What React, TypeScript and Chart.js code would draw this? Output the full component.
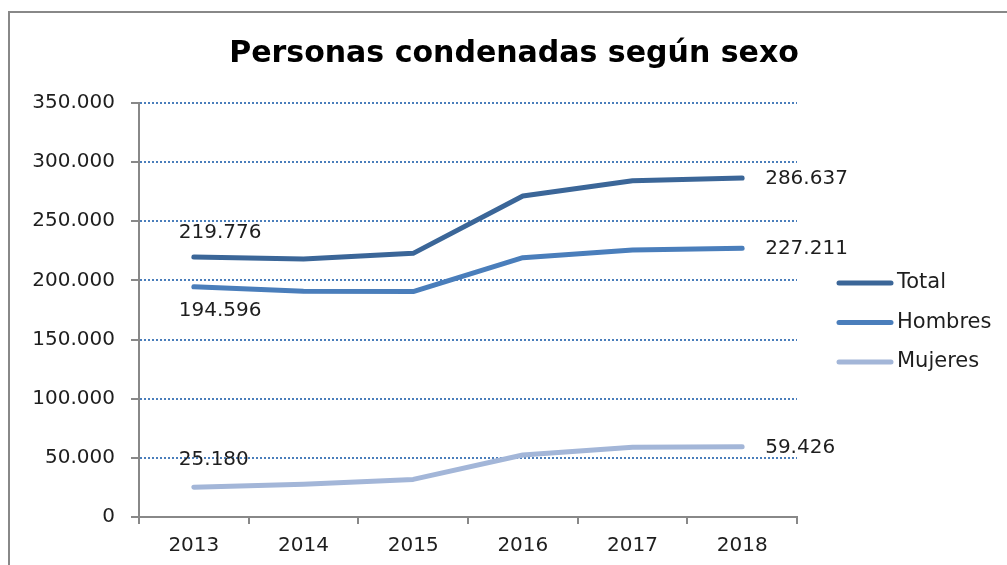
import React, { useEffect, useRef } from 'react';
import { Chart, registerables } from 'chart.js';

Chart.register(...registerables);

const chartTitle = 'Personas condenadas según sexo';
const years = ['2013', '2014', '2015', '2016', '2017', '2018'];
const seriesNames = ['Total', 'Hombres', 'Mujeres'];
const total = [219776, 218200, 222900, 271400, 284300, 286637];
const hombres = [194596, 190900, 190600, 219200, 225700, 227211];
const mujeres = [25180, 27600, 31800, 52400, 58900, 59426];
const yMin = 0;
const yMax = 350000;
const yStep = 50000;

const seriesColors = ['#3B6698', '#4A7EBB', '#A3B6D8'];
const TEXT = '#1e1e1e';
const AXIS = '#888888';
const GRID = '#4A7EBB';
const FONT = '"DejaVu Sans", Verdana, sans-serif';

const fmt = (v: number) => String(Math.round(v)).replace(/\B(?=(\d{3})+(?!\d))/g, '.');

const decorPlugin = {
  id: 'decor',
  afterDatasetsDraw(chart: any) {
    const ctx = chart.ctx as CanvasRenderingContext2D;
    ctx.save();
    // data labels at first and last points
    ctx.font = `20px ${FONT}`;
    ctx.fillStyle = TEXT;
    ctx.textBaseline = 'middle';
    ctx.textAlign = 'left';
    const firstOffsets = [-24, 24, -27];
    chart.data.datasets.forEach((ds: any, i: number) => {
      const pts = chart.getDatasetMeta(i).data;
      const first = pts[0];
      const last = pts[pts.length - 1];
      ctx.fillText(fmt(ds.data[0]), first.x - 15, first.y + firstOffsets[i]);
      ctx.fillText(fmt(ds.data[ds.data.length - 1]), last.x + 23, last.y + 1);
    });
    // legend
    const lx1 = 839;
    const lx2 = 891;
    const ly0 = 283;
    const lstep = 39.5;
    chart.data.datasets.forEach((ds: any, i: number) => {
      const y = ly0 + i * lstep;
      ctx.beginPath();
      ctx.strokeStyle = ds.borderColor;
      ctx.lineWidth = 5;
      ctx.lineCap = 'round';
      ctx.moveTo(lx1, y);
      ctx.lineTo(lx2, y);
      ctx.stroke();
      ctx.fillStyle = TEXT;
      ctx.font = `21px ${FONT}`;
      ctx.textAlign = 'left';
      ctx.textBaseline = 'middle';
      ctx.fillText(ds.label, 897, y);
    });
    // title
    ctx.font = `bold 30px ${FONT}`;
    ctx.fillStyle = '#000000';
    ctx.textAlign = 'center';
    ctx.textBaseline = 'alphabetic';
    ctx.fillText(chartTitle, 514, 62);
    ctx.restore();
  },
};

export default function App() {
  const ref = useRef<HTMLCanvasElement | null>(null);

  useEffect(() => {
    if (!ref.current) return;
    const seriesData = [total, hombres, mujeres];
    const chart = new Chart(ref.current, {
      type: 'line',
      data: {
        labels: years,
        datasets: seriesNames.map((name, i) => ({
          label: name,
          data: seriesData[i],
          borderColor: seriesColors[i],
          backgroundColor: seriesColors[i],
          borderWidth: 5,
          pointRadius: 0,
          pointHoverRadius: 0,
          tension: 0,
          borderCapStyle: 'round' as const,
          borderJoinStyle: 'round' as const,
          fill: false,
        })),
      },
      options: {
        responsive: false,
        animation: false,
        devicePixelRatio: 1,
        layout: { padding: { left: 0, top: 103, right: 210, bottom: 0 } },
        plugins: {
          legend: { display: false },
          title: { display: false },
          tooltip: { enabled: false },
        },
        scales: {
          x: {
            offset: true,
            afterFit: (s: any) => { s.height = 48; },
            grid: {
              offset: true,
              drawOnChartArea: false,
              drawTicks: true,
              tickLength: 7,
              color: AXIS,
              tickColor: AXIS,
              lineWidth: 2,
              tickWidth: 2,
            },
            border: { display: true, color: AXIS, width: 2 },
            ticks: {
              color: TEXT,
              font: { family: FONT, size: 20 },
              padding: 10,
              maxRotation: 0,
              autoSkip: false,
            },
          },
          y: {
            min: yMin,
            max: yMax,
            afterFit: (s: any) => { s.width = 139; },
            grid: {
              color: (c: any) => (c.tick && c.tick.value === 0 ? 'rgba(0,0,0,0)' : GRID),
              lineWidth: 2,
              drawTicks: true,
              tickLength: 8,
              tickColor: AXIS,
              tickWidth: 2,
            },
            border: { display: true, color: AXIS, width: 2, dash: [2, 2] },
            ticks: {
              stepSize: yStep,
              color: TEXT,
              font: { family: FONT, size: 20 },
              padding: 16,
              callback: (v: any) => fmt(Number(v)),
            },
          },
        },
      },
      plugins: [decorPlugin],
    });
    return () => chart.destroy();
  }, []);

  return (
    <div style={{ position: 'fixed', left: 0, top: 0, width: 1007, height: 565, overflow: 'hidden', background: '#ffffff' }}>
      <div style={{ position: 'absolute', left: 8, top: 11, width: 1100, height: 700, borderLeft: '2px solid #888888', borderTop: '2px solid #888888' }} />
      <canvas ref={ref} width={1007} height={565} style={{ position: 'absolute', left: 0, top: 0, width: 1007, height: 565 }} />
    </div>
  );
}
